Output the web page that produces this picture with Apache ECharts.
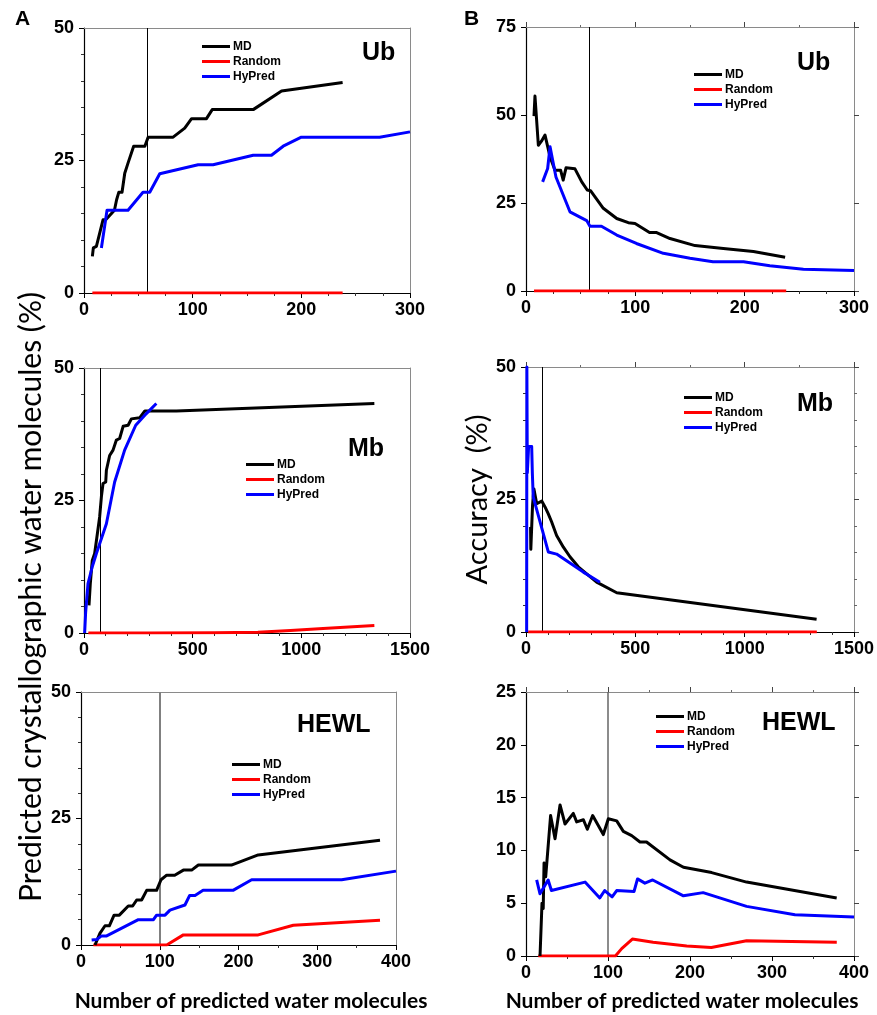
<!DOCTYPE html>
<html>
<head>
<meta charset="utf-8">
<script src="https://cdn.jsdelivr.net/npm/echarts@6/dist/echarts.min.js"></script>
<style>html,body{margin:0;padding:0;background:#fff}#chart{width:877px;height:1015px}</style>
</head>
<body>
<div id="chart"></div>
<script>
// ---------- DATA ----------
const seriesNames = ['MD', 'Random', 'HyPred'];
const seriesColors = ['#000000', '#ff0000', '#0000ff'];

// Column A: predicted crystallographic water molecules (%)
const ubCountMD = [[7.7,6.9],[8.6,8.5],[11.4,8.8],[17.5,13.8],[20,13.8],[28,15.6],[30,17.6],[32,19],[35,19],[37.5,22.6],[40.5,24.5],[45.7,27.7],[56,27.7],[59,29.4],[82,29.4],[92.7,31.1],[99,32.9],[112.7,32.9],[118,34.6],[155.7,34.6],[181.8,38.1],[238,39.7]];
const ubCountRandom = [[7.7,0],[238,0]];
const ubCountHyPred = [[16,8.5],[21.2,15.6],[40.5,15.6],[54.3,19],[60.5,19],[69.7,22.5],[105,24.2],[118.8,24.2],[155.7,26],[172.5,26],[183.3,27.7],[200,29.4],[272,29.4],[300,30.4]];

const mbCountMD = [[23,5.2],[27,5.2],[29,9.3],[38,13.7],[49,15],[72,21.9],[80,25.7],[87.5,28.2],[100,28.5],[103,30.7],[118,33.5],[133.6,34.5],[149,36.4],[164,36.7],[180,39],[203,39.2],[218,40.4],[256,40.6],[280,41.9],[425,41.9],[1336,43.3]];
const mbCountRandom = [[20,0],[300,0],[600,0.05],[800,0.15],[950,0.45],[1100,0.85],[1336,1.4]];
const mbCountHyPred = [[3,0],[7.7,4],[18.4,9.3],[38,12.5],[57,15],[103,20.6],[141,28.5],[187,34.5],[238,39.2],[287,41.4],[333,43.3]];

const hewlCountMD = [[17.8,0],[24,2.3],[30.5,3.8],[36,3.8],[42,5.9],[48.7,5.9],[60,7.7],[65.6,7.7],[70.7,8.9],[77,8.9],[83.4,10.8],[96,10.8],[101.6,12.9],[108.8,13.8],[119,13.8],[130,14.8],[140.5,14.8],[149,15.8],[191,15.8],[225,17.8],[379.7,20.7]];
const hewlCountRandom = [[15.7,0],[108.8,0],[130,2],[225,2],[269.6,3.9],[379.7,4.9]];
const hewlCountHyPred = [[13.5,1],[20,1.1],[26,1.8],[32.6,1.8],[72.8,5],[92,5],[96,5.9],[106.7,5.9],[113,6.9],[132,7.9],[138,9.8],[144.8,9.8],[155,10.8],[193,10.8],[216.7,12.9],[331,12.9],[400,14.6]];

// Column B: accuracy (%)
const ubAccMD = [[7.3,49.7],[8.2,55.4],[11.3,41.4],[14,42.5],[17.4,44.3],[22,38.1],[26.5,34.3],[31.7,34.3],[34,31.5],[36.6,35],[44.8,34.7],[51,31],[56,28.7],[59,28.5],[70.7,23.5],[83,20.6],[93.6,19.4],[99.7,19.2],[113,16.6],[119.5,16.6],[131.7,14.9],[154.6,12.9],[180.5,12.1],[208,11.2],[237,9.6]];
const ubAccRandom = [[7.3,0],[238,0]];
const ubAccHyPred = [[15.2,31],[19.8,34.8],[22,41],[27.4,32.4],[40.2,22.5],[55.5,20],[58.5,18.4],[69,18.4],[83,15.9],[101,13.5],[125.6,10.7],[150,9.3],[171,8.3],[199,8.3],[223,7.2],[253.7,6.2],[300,5.8]];

const mbAccMD = [[21,19.8],[22,15.6],[26,15.6],[30,24],[36,27],[49,24.2],[72,24.7],[87,23.6],[102,22.3],[117,20.8],[140,18.2],[171,16],[201,14.2],[239,12.3],[323,9.4],[415,7.4],[1329,2.4]];
const mbAccRandom = [[10,0],[1330,0]];
const mbAccHyPred = [[3,0],[4,50],[6,30],[12,35],[26,35],[29,30],[33,25.5],[102,15.1],[140,14.7],[262,11.3],[338,9.4]];

const hewlAccMD = [[17.1,0],[19.5,5],[21,4.5],[22,8.8],[24,7.5],[30,13.3],[35.4,11.1],[41.5,14.3],[47.6,12.5],[57.7,13.5],[61.8,12.7],[70,12.9],[74.8,12],[81.3,13.3],[94.3,11.5],[100.4,13],[110.6,12.8],[118.7,11.8],[128.9,11.4],[139,10.8],[147,10.8],[175.6,9.1],[192,8.4],[226.4,7.9],[269,7],[378.9,5.5]];
const hewlAccRandom = [[15,0],[109,0],[116.7,0.7],[129.7,1.6],[155,1.3],[196,0.95],[226,0.8],[269,1.45],[379,1.3]];
const hewlAccHyPred = [[13,7.2],[17,5.9],[27,7.2],[31,6.2],[72,7],[90,5.5],[96,6.2],[105,5.6],[110.6,6.2],[131.7,6.1],[136,7.3],[145,6.9],[154.5,7.2],[192,5.7],[216,6],[269,4.7],[328,3.9],[400,3.7]];

// Cut-off lines (x values)
const cutoffs = [58, 58, 74, 74, 100, 100];
// Panel titles
const panelTitles = ['Ub', 'Ub', 'Mb', 'Mb', 'HEWL', 'HEWL'];
// Axis ranges: [min, max, interval, minorSplit]
const xRanges = [[0,300,100,4],[0,300,100,4],[0,1500,500,5],[0,1500,500,5],[0,400,100,2],[0,400,100,2]];
const yRanges = [[0,50,25,5],[0,75,25,0],[0,50,25,5],[0,50,25,5],[0,50,25,5],[0,25,5,0]];

// ---------- LAYOUT ----------
const panelData = [
  [ubCountMD, ubCountRandom, ubCountHyPred],
  [ubAccMD, ubAccRandom, ubAccHyPred],
  [mbCountMD, mbCountRandom, mbCountHyPred],
  [mbAccMD, mbAccRandom, mbAccHyPred],
  [hewlCountMD, hewlCountRandom, hewlCountHyPred],
  [hewlAccMD, hewlAccRandom, hewlAccHyPred]
];
const layout = [
  {grid:{left:84,top:28,width:326,height:265}, title:{left:362,top:41}, legend:{left:202,top:40}, vcolor:'#000', vwidth:1, colB:false},
  {grid:{left:526,top:27,width:328,height:264}, title:{left:797,top:51}, legend:{left:694,top:68}, vcolor:'#000', vwidth:1, colB:true},
  {grid:{left:84,top:368,width:326,height:265}, title:{left:348,top:437}, legend:{left:246,top:458}, vcolor:'#000', vwidth:1, colB:false},
  {grid:{left:526,top:367,width:328,height:265}, title:{left:797,top:392}, legend:{left:684,top:391}, vcolor:'#000', vwidth:1, colB:true},
  {grid:{left:81,top:692,width:315,height:253}, title:{left:297,top:713}, legend:{left:232,top:758}, vcolor:'#808080', vwidth:2, colB:false},
  {grid:{left:526,top:692,width:328,height:264}, title:{left:762,top:711}, legend:{left:656,top:710}, vcolor:'#666666', vwidth:1.5, colB:true}
];

const numFont = 'Liberation Sans';
const titleFont = 'Lato';
const plain = v => String(v);

const grids = [], xAxes = [], yAxes = [], series = [], titles = [], legends = [];
layout.forEach((L, i) => {
  grids.push(Object.assign({outerBoundsMode:'none', containLabel:false}, L.grid));
  const xr = xRanges[i], yr = yRanges[i];
  xAxes.push({type:'value', gridIndex:i, position:'bottom', min:xr[0], max:xr[1], interval:xr[2],
    splitLine:{show:false},
    axisLine:{onZero:false, lineStyle:{color:'#000', width:1.2}},
    axisTick:{length:5, lineStyle:{color:'#000'}},
    minorTick:{show:true, splitNumber:xr[3], length:3, lineStyle:{color:'#333'}},
    axisLabel:{fontFamily:numFont, fontWeight:'bold', fontSize:18, color:'#000', margin:8, formatter:plain}});
  xAxes.push({type:'value', gridIndex:i, position:'top', min:xr[0], max:xr[1], interval:xr[2],
    splitLine:{show:false},
    axisLine:{onZero:false, lineStyle:{color:'#8a8a8a', width:1}},
    axisTick:{show:L.colB, length:5, lineStyle:{color:'#444'}},
    minorTick:{show:L.colB, splitNumber:2, length:2, lineStyle:{color:'#666'}},
    axisLabel:{show:false}});
  yAxes.push({type:'value', gridIndex:i, position:'left', min:yr[0], max:yr[1], interval:yr[2],
    splitLine:{show:false},
    axisLine:{onZero:false, lineStyle:{color:'#000', width:1.2}},
    axisTick:{length:5, lineStyle:{color:'#000'}},
    minorTick:{show:yr[3] > 0, splitNumber:yr[3] || 5, length:3, lineStyle:{color:'#333'}},
    axisLabel:{fontFamily:numFont, fontWeight:'bold', fontSize:18, color:'#000', margin:10, formatter:plain},
    name: i === 3 ? 'Accuracy  (%)' : '', nameLocation:'middle', nameGap:33, nameRotate:90,
    nameTextStyle:{fontFamily:titleFont, fontSize:29, color:'#000'}});
  yAxes.push({type:'value', gridIndex:i, position:'right', min:yr[0], max:yr[1], interval:yr[2],
    splitLine:{show:false},
    axisLine:{onZero:false, lineStyle:{color:'#8a8a8a', width:1}},
    axisTick:{show:L.colB, length:5, lineStyle:{color:'#444'}},
    minorTick:{show:L.colB && yr[3] > 0, splitNumber:yr[3] || 5, length:3, lineStyle:{color:'#666'}},
    axisLabel:{show:false}});
  panelData[i].forEach((d, k) => {
    const s = {name:seriesNames[k], type:'line', xAxisIndex:2*i, yAxisIndex:2*i, data:d,
      showSymbol:false, symbol:'none', color:seriesColors[k],
      lineStyle:{color:seriesColors[k], width:3, join:'round'}, z: k === 1 ? 3 : (k === 0 ? 4 : 5), animation:false};
    if (k === 0) {
      s.markLine = {silent:true, symbol:['none','none'], label:{show:false},
        lineStyle:{color:L.vcolor, width:L.vwidth, type:'solid'}, data:[{xAxis:cutoffs[i]}], animation:false, z:1};
    }
    series.push(s);
  });
  titles.push({text:panelTitles[i], left:L.title.left, top:L.title.top, padding:0,
    textStyle:{fontFamily:numFont, fontWeight:'bold', fontSize:25, color:'#000'}});
  legends.push({data:seriesNames, orient:'vertical', left:L.legend.left, top:L.legend.top, padding:0,
    itemGap:2, itemWidth:28, itemHeight:3, icon:'rect', selectedMode:false,
    textStyle:{fontFamily:numFont, fontWeight:'bold', fontSize:12, color:'#000', lineHeight:13, padding:[0,0,0,-2]}});
});

const chart = echarts.init(document.getElementById('chart'), null, {renderer:'canvas'});
chart.setOption({
  animation:false,
  backgroundColor:'#fff',
  grid:grids, xAxis:xAxes, yAxis:yAxes, series:series, title:titles, legend:legends,
  graphic:[
    {type:'text', left:15, top:9, style:{text:'A', fontFamily:numFont, fontWeight:'bold', fontSize:21, fill:'#000'}},
    {type:'text', left:464, top:9, style:{text:'B', fontFamily:numFont, fontWeight:'bold', fontSize:21, fill:'#000'}},
    {type:'text', x:31, y:597, rotation:Math.PI/2,
      style:{text:'Predicted crystallographic water molecules (%)', fontFamily:titleFont, fontSize:30, fill:'#000', align:'center', verticalAlign:'middle'}},
    {type:'text', x:251, y:1001,
      style:{text:'Number of predicted water molecules', fontFamily:titleFont, fontWeight:'bold', fontSize:21, fill:'#000', align:'center', verticalAlign:'middle'}},
    {type:'text', x:682, y:1001,
      style:{text:'Number of predicted water molecules', fontFamily:titleFont, fontWeight:'bold', fontSize:21, fill:'#000', align:'center', verticalAlign:'middle'}}
  ]
});
</script>
</body>
</html>
